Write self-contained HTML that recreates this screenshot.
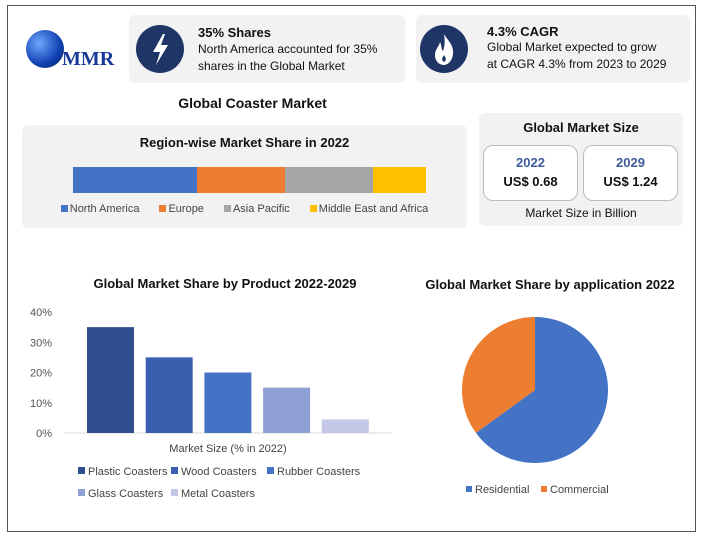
<!DOCTYPE html>
<html><head><meta charset="utf-8"><style>
body{margin:0;width:704px;height:539px;background:#fff;font-family:"Liberation Sans",sans-serif;position:relative;overflow:hidden;color:#111}
.abs{position:absolute}
.panel{position:absolute;background:#f2f2f2;border-radius:6px}
</style></head><body>
<div class="abs" style="left:7px;top:5px;width:687px;height:525px;border:1px solid #555"></div>
<div class="abs" style="left:14px;top:28px;width:110px;height:50px">
<div class="abs" style="left:12px;top:2px;width:38px;height:38px;border-radius:50%;background:radial-gradient(circle at 35% 35%,#6fa8ff,#1040b0 60%,#06205a)"></div>
<div class="abs" style="left:48px;top:20px;font-family:'Liberation Serif',serif;font-weight:bold;font-size:20px;color:#1a3a9a">MMR</div></div>
<div class="panel" style="left:129px;top:15px;width:276px;height:68px"></div>
<div class="abs" style="left:136px;top:25px;width:48px;height:48px;border-radius:50%;background:#1f3566">
<svg width="48" height="48"><polygon points="27,9 17,27 24,27 20,40 32,20 25,20 29,9" fill="#fff"/></svg></div>
<div class="abs" style="left:198px;top:25px;font-size:13px;font-weight:bold">35% Shares</div>
<div class="abs" style="left:198px;top:41px;font-size:12px;line-height:17px">North America accounted for 35%<br>shares in the Global Market</div>
<div class="panel" style="left:416px;top:15px;width:274px;height:68px"></div>
<div class="abs" style="left:420px;top:25px;width:48px;height:48px;border-radius:50%;background:#1f3566">
<svg width="48" height="48"><path d="M24,9 C28,16 34,20 33,29 C32,37 27,40 24,40 C20,40 15,37 15,30 C15,24 19,22 20,17 C22,21 21,24 23,26 C25,21 25,15 24,9Z" fill="#fff"/><path d="M24,30 C26,33 27,35 24,37 C21,35 22,33 24,30Z" fill="#1f3566"/></svg></div>
<div class="abs" style="left:487px;top:24px;font-size:13px;font-weight:bold">4.3% CAGR</div>
<div class="abs" style="left:487px;top:39px;font-size:12px;line-height:17px">Global Market expected to grow<br>at CAGR 4.3% from 2023 to 2029</div>
<div class="abs" style="left:130px;top:95px;width:245px;text-align:center;font-size:14px;font-weight:bold">Global Coaster Market</div>
<div class="panel" style="left:22px;top:125px;width:445px;height:103px"></div>
<div class="abs" style="left:22px;top:135px;width:445px;text-align:center;font-size:13px;font-weight:bold">Region-wise Market Share in 2022</div>
<div class="abs" id="region-bar" style="left:73px;top:167px;width:353px;height:26px;display:flex"></div>
<div class="abs" id="region-legend" style="left:22px;top:203px;width:445px;display:flex;justify-content:center;gap:20px;font-size:11px;color:#444"></div>
<div class="panel" style="left:479px;top:113px;width:204px;height:113px"></div>
<div class="abs" style="left:479px;top:120px;width:204px;text-align:center;font-size:13px;font-weight:bold">Global Market Size</div>
<div class="abs" style="left:483px;top:145px;width:93px;height:54px;background:#fff;border:1px solid #bbb;border-radius:10px;text-align:center">
<div style="margin-top:9px;color:#3d5a9a;font-weight:bold;font-size:13px">2022</div><div style="margin-top:4px;font-weight:bold;font-size:13px">US$ 0.68</div></div>
<div class="abs" style="left:583px;top:145px;width:93px;height:54px;background:#fff;border:1px solid #bbb;border-radius:10px;text-align:center">
<div style="margin-top:9px;color:#3d5a9a;font-weight:bold;font-size:13px">2029</div><div style="margin-top:4px;font-weight:bold;font-size:13px">US$ 1.24</div></div>
<div class="abs" style="left:479px;top:206px;width:204px;text-align:center;font-size:12px">Market Size in Billion</div>
<div class="abs" style="left:40px;top:276px;width:370px;text-align:center;font-size:13px;font-weight:bold">Global Market Share by Product 2022-2029</div>
<div class="abs" style="left:415px;top:277px;width:270px;text-align:center;font-size:13px;font-weight:bold">Global Market Share by application 2022</div>
<svg class="abs" id="chart" style="left:0;top:0" width="704" height="539"></svg>
<script>
const regions=["North America","Europe","Asia Pacific","Middle East and Africa"];
const regionShares=[35,25,25,15];
const regionColors=["#4472c4","#ed7d31","#a5a5a5","#ffc000"];
const products=["Plastic Coasters","Wood Coasters","Rubber Coasters","Glass Coasters","Metal Coasters"];
const productValues=[35,25,20,15,4.5];
const productColors=["#2f4f8f","#3a5fae","#4472c4","#8fa0d4","#c4c8e6"];
const yTicks=[0,10,20,30,40];
const apps=["Residential","Commercial"];
const appValues=[65,35];
const appColors=["#4472c4","#ed7d31"];

const rb=document.getElementById('region-bar');
const tot=regionShares.reduce((a,b)=>a+b,0);
regionShares.forEach((v,i)=>{const d=document.createElement('div');


d.style.width=(v/tot*100)+'%';d.style.background=regionColors[i];rb.appendChild(d);});
const rl=document.getElementById('region-legend');
regions.forEach((r,i)=>{const s=document.createElement('span');


s.innerHTML='<span style="display:inline-block;width:7px;height:7px;background:'+regionColors[i]+';margin-right:2px"></span>'+r;rl.appendChild(s);});

const NS='http://www.w3.org/2000/svg',svg=document.getElementById('chart');
function el(t,a,txt){const e=document.createElementNS(NS,t);for(const k in a)e.setAttribute(k,a[k]);if(txt!=null)e.textContent=txt;svg.appendChild(e);return e;}
const y0=433,pxPer=121/40;const yS=v=>y0-v*pxPer;const xS=i=>87+i*58.7;
yTicks.forEach(t=>{const e=el('text',{x:52,y:yS(t)+4,'text-anchor':'end','font-size':11,fill:'#555','font-family':'Liberation Sans'},t+'%');

});
const ax=el('line',{x1:64,x2:392,y1:y0,y2:y0,stroke:'#d9d9d9'});


productValues.forEach((v,i)=>{const r=el('rect',{x:xS(i),y:yS(v),width:47,height:v*pxPer,fill:productColors[i]});

});
const xt=el('text',{x:228,y:452,'text-anchor':'middle','font-size':11,fill:'#444','font-family':'Liberation Sans'},'Market Size (% in 2022)');


const lpos=[[78,475],[171,475],[267,475],[78,497],[171,497]];
products.forEach((p,i)=>{const[x,y]=lpos[i];
const g=el('rect',{x:x,y:y-8,width:7,height:7,fill:productColors[i]});


const t=el('text',{x:x+10,y:y,'font-size':11,fill:'#444','font-family':'Liberation Sans'},p);

});
const cx=535,cy=390,R=73;let a=-Math.PI/2;const at=appValues.reduce((p,c)=>p+c,0);
appValues.forEach((v,i)=>{const b=a+v/at*2*Math.PI;const large=(b-a)>Math.PI?1:0;
const p=el('path',{d:`M${cx},${cy}L${cx+R*Math.cos(a)},${cy+R*Math.sin(a)}A${R},${R} 0 ${large} 1 ${cx+R*Math.cos(b)},${cy+R*Math.sin(b)}Z`,fill:appColors[i]});

a=b;});
const apx=[466,541];
apps.forEach((n,i)=>{const g=el('rect',{x:apx[i],y:486,width:6,height:6,fill:appColors[i]});


const t=el('text',{x:apx[i]+9,y:493,'font-size':11,fill:'#444','font-family':'Liberation Sans'},n);

});
</script>
</body></html>
